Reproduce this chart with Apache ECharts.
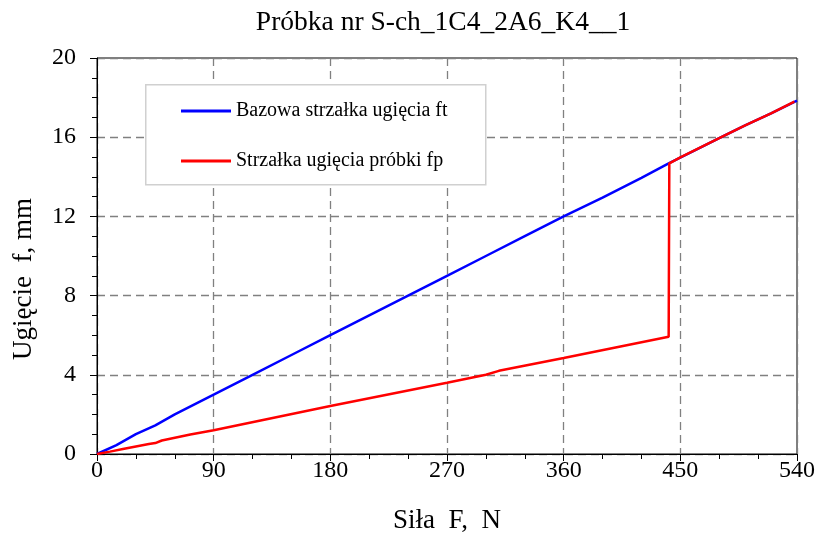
<!DOCTYPE html>
<html><head><meta charset="utf-8">
<script src="https://cdn.jsdelivr.net/npm/echarts@6/dist/echarts.min.js"></script>
<style>html,body{margin:0;padding:0;background:#fff}#c{width:821px;height:538px}</style>
</head><body><div id="c"></div>
<script>
const titleText = 'Próbka nr S-ch_1C4_2A6_K4__1';
const xName = 'Siła  F,  N';
const yName = 'Ugięcie  f, mm';
const seriesNames = ['Bazowa strzałka ugięcia ft', 'Strzałka ugięcia próbki fp'];
const baseForce = [0, 15, 30, 45, 60, 90, 120, 150, 180, 210, 240, 270, 300, 330, 360, 390, 420, 441, 460, 480, 500, 520, 540];
const baseDefl  = [0, 0.45, 1.0, 1.45, 2.0, 3.0, 4.0, 5.0, 6.0, 7.0, 8.0, 9.0, 10.0, 11.0, 12.0, 12.95, 13.95, 14.68, 15.3, 15.95, 16.6, 17.2, 17.85];
const sampForce = [0, 10, 20, 30, 40, 45, 50, 72, 90, 180, 270, 300, 310, 360, 441, 441.5, 450, 480, 500, 520, 538];
const sampDefl  = [0, 0.12, 0.25, 0.38, 0.5, 0.55, 0.68, 0.98, 1.2, 2.42, 3.6, 4.0, 4.2, 4.85, 5.92, 14.68, 14.98, 15.95, 16.6, 17.2, 17.8];
const xTicks = {min: 0, max: 540, interval: 90};
const yTicks = {min: 0, max: 20, interval: 4};

const pair = (a, b) => a.map((v, i) => [v, b[i]]);
const font = 'Liberation Serif';
const chart = echarts.init(document.getElementById('c'));
chart.setOption({
  animation: false,
  backgroundColor: '#fff',
  title: {text: titleText, left: 438, textAlign: 'center', top: 4,
    textStyle: {fontFamily: font, fontSize: 27.5, fontWeight: 'normal', color: '#000'}},
  grid: {left: 97, right: 24, top: 58, bottom: 84, containLabel: false, outerBoundsMode: 'none',
    show: true, borderColor: '#000', borderWidth: 1, backgroundColor: 'transparent'},
  graphic: [
    {type: 'rect', left: 145, top: 84, shape: {width: 340, height: 100},
      style: {fill: '#fff', stroke: '#d0d0d0', lineWidth: 1.5}, z: 10},
    {type: 'text', x: 24, y: 279, rotation: Math.PI / 2,
      style: {text: yName, fontFamily: font, fontSize: 27, fill: '#000', align: 'center', verticalAlign: 'middle'}, z: 10}
  ],
  legend: {orient: 'vertical', left: 176, top: 96, itemWidth: 50, itemHeight: 3, itemGap: 30, z: 20,
    icon: 'rect',
    textStyle: {fontFamily: font, fontSize: 20, color: '#000'}, data: seriesNames},
  xAxis: {type: 'value', min: xTicks.min, max: xTicks.max, interval: xTicks.interval,
    name: xName, nameLocation: 'middle', nameGap: 53,
    nameTextStyle: {fontFamily: font, fontSize: 27, color: '#000'},
    axisLine: {onZero: false, lineStyle: {color: '#000', width: 1}},
    axisTick: {inside: false, length: 7, lineStyle: {color: '#000'}},
    minorTick: {show: true, splitNumber: 3, length: 5, lineStyle: {color: '#000'}},
    axisLabel: {fontFamily: font, fontSize: 24, color: '#000', margin: 5},
    splitLine: {show: true, lineStyle: {color: '#808080', type: [8, 5], width: 1.3}}},
  yAxis: {type: 'value', min: yTicks.min, max: yTicks.max, interval: yTicks.interval,
    axisLine: {onZero: false, lineStyle: {color: '#000', width: 1}},
    axisTick: {inside: false, length: 7, lineStyle: {color: '#000'}},
    minorTick: {show: true, splitNumber: 4, length: 5, lineStyle: {color: '#000'}},
    axisLabel: {fontFamily: font, fontSize: 24, color: '#000', margin: 21},
    splitLine: {show: true, lineStyle: {color: '#808080', type: [8, 5], width: 1.3}}},
  series: [
    {name: seriesNames[0], type: 'line', data: pair(baseForce, baseDefl), showSymbol: false,
      lineStyle: {color: '#0000ff', width: 2.5}, itemStyle: {color: '#0000ff'}, z: 3},
    {name: seriesNames[1], type: 'line', data: pair(sampForce, sampDefl), showSymbol: false,
      lineStyle: {color: '#ff0000', width: 2.5}, itemStyle: {color: '#ff0000'}, z: 4}
  ]
});
</script></body></html>
